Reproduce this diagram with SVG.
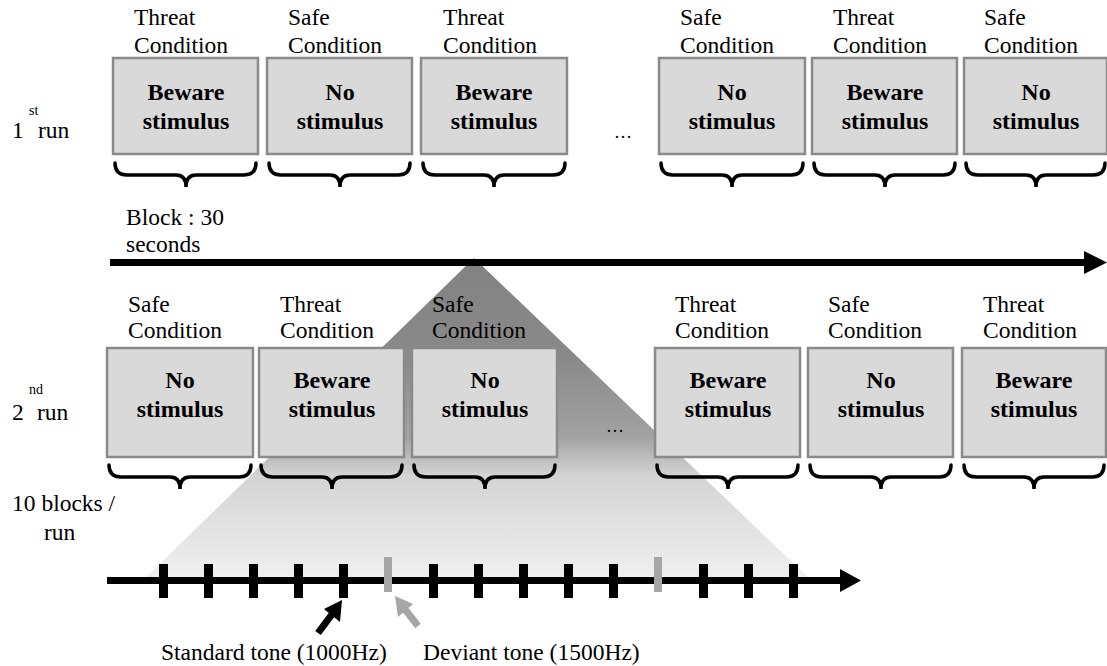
<svg xmlns="http://www.w3.org/2000/svg" width="1107" height="666" viewBox="0 0 1107 666">
<defs>
<style>
text{font-family:"Liberation Serif","Times New Roman",serif;fill:#000}
.lbl{font-size:23.5px}
.bt{font-size:24px;font-weight:bold;text-anchor:middle}
.sup{font-size:14px}
.box{fill:#d9d9d9;stroke:#8a8a8a;stroke-width:2.5}
.brace{fill:none;stroke:#000;stroke-width:3.5;stroke-linecap:round}
.tl{stroke:#000;stroke-width:7}
.tick{fill:#000}
.gtick{fill:#a6a6a6}
</style>
<linearGradient id="fan" gradientUnits="userSpaceOnUse" x1="0" y1="258" x2="0" y2="583">
<stop offset="0" stop-color="#828282"/>
<stop offset="0.3" stop-color="#898989"/>
<stop offset="0.55" stop-color="#a2a2a2"/>
<stop offset="0.67" stop-color="#d4d4d4"/>
<stop offset="1" stop-color="#f1f1f1"/>
</linearGradient>
</defs>
<rect width="1107" height="666" fill="#fff"/>

<g id="fan-zoom"><polygon points="474,258 140,583 814,583" fill="url(#fan)"/></g>

<g id="run1-label"><text class="lbl" x="12" y="138">1</text><text class="sup" x="29" y="115">st</text><text class="lbl" x="38" y="138">run</text></g>
<g id="run2-label"><text class="lbl" x="12" y="420">2</text><text class="sup" x="29" y="394">nd</text><text class="lbl" x="37" y="420">run</text></g>

<g id="r1b1"><text class="lbl" x="134" y="25">Threat</text><text class="lbl" x="134" y="53">Condition</text><rect class="box" x="113" y="58" width="145" height="96"/><text class="bt" x="186" y="100">Beware</text><text class="bt" x="186" y="129">stimulus</text></g>
<g id="r1b2"><text class="lbl" x="288" y="25">Safe</text><text class="lbl" x="288" y="53">Condition</text><rect class="box" x="267" y="58" width="145" height="96"/><text class="bt" x="340" y="100">No</text><text class="bt" x="340" y="129">stimulus</text></g>
<g id="r1b3"><text class="lbl" x="443" y="25">Threat</text><text class="lbl" x="443" y="53">Condition</text><rect class="box" x="421" y="58" width="146" height="96"/><text class="bt" x="494" y="100">Beware</text><text class="bt" x="494" y="129">stimulus</text></g>
<g id="r1b4"><text class="lbl" x="680" y="25">Safe</text><text class="lbl" x="680" y="53">Condition</text><rect class="box" x="659" y="58" width="146" height="96"/><text class="bt" x="732" y="100">No</text><text class="bt" x="732" y="129">stimulus</text></g>
<g id="r1b5"><text class="lbl" x="833" y="25">Threat</text><text class="lbl" x="833" y="53">Condition</text><rect class="box" x="812" y="58" width="145" height="96"/><text class="bt" x="885" y="100">Beware</text><text class="bt" x="885" y="129">stimulus</text></g>
<g id="r1b6"><text class="lbl" x="984" y="25">Safe</text><text class="lbl" x="984" y="53">Condition</text><rect class="box" x="964" y="58" width="143" height="96"/><text class="bt" x="1036" y="100">No</text><text class="bt" x="1036" y="129">stimulus</text></g>
<text id="r1-ellipsis" x="614" y="138" style="font-size:18px">…</text>

<g id="r2b1"><text class="lbl" x="128" y="312">Safe</text><text class="lbl" x="128" y="338">Condition</text><rect class="box" x="107" y="348" width="146" height="109"/><text class="bt" x="180" y="388">No</text><text class="bt" x="180" y="417">stimulus</text></g>
<g id="r2b2"><text class="lbl" x="280" y="312">Threat</text><text class="lbl" x="280" y="338">Condition</text><rect class="box" x="259" y="348" width="145" height="109"/><text class="bt" x="332" y="388">Beware</text><text class="bt" x="332" y="417">stimulus</text></g>
<g id="r2b3"><text class="lbl" x="432" y="312">Safe</text><text class="lbl" x="432" y="338">Condition</text><rect class="box" x="412" y="348" width="145" height="109"/><text class="bt" x="485" y="388">No</text><text class="bt" x="485" y="417">stimulus</text></g>
<g id="r2b4"><text class="lbl" x="675" y="312">Threat</text><text class="lbl" x="675" y="338">Condition</text><rect class="box" x="655" y="348" width="145" height="109"/><text class="bt" x="728" y="388">Beware</text><text class="bt" x="728" y="417">stimulus</text></g>
<g id="r2b5"><text class="lbl" x="828" y="312">Safe</text><text class="lbl" x="828" y="338">Condition</text><rect class="box" x="808" y="348" width="145" height="109"/><text class="bt" x="881" y="388">No</text><text class="bt" x="881" y="417">stimulus</text></g>
<g id="r2b6"><text class="lbl" x="983" y="312">Threat</text><text class="lbl" x="983" y="338">Condition</text><rect class="box" x="962" y="348" width="144" height="109"/><text class="bt" x="1034" y="388">Beware</text><text class="bt" x="1034" y="417">stimulus</text></g>
<text id="r2-ellipsis" x="606" y="432" style="font-size:18px">…</text>

<g id="braces">
<path class="brace" d="M115,163 Q115,175 127,175 L176,175 Q186,175 186,187 Q186,175 196,175 L244,175 Q256,175 256,163"/>
<path class="brace" d="M269,163 Q269,175 281,175 L330,175 Q340,175 340,187 Q340,175 350,175 L398,175 Q410,175 410,163"/>
<path class="brace" d="M423,163 Q423,175 435,175 L484,175 Q494,175 494,187 Q494,175 504,175 L553,175 Q565,175 565,163"/>
<path class="brace" d="M661,163 Q661,175 673,175 L722,175 Q732,175 732,187 Q732,175 742,175 L791,175 Q803,175 803,163"/>
<path class="brace" d="M814,163 Q814,175 826,175 L875,175 Q885,175 885,187 Q885,175 895,175 L943,175 Q955,175 955,163"/>
<path class="brace" d="M966,163 Q966,175 978,175 L1026,175 Q1036,175 1036,187 Q1036,175 1046,175 L1093,175 Q1105,175 1105,163"/>
<path class="brace" d="M109,465 Q109,477 121,477 L170,477 Q180,477 180,489 Q180,477 190,477 L239,477 Q251,477 251,465"/>
<path class="brace" d="M261,465 Q261,477 273,477 L322,477 Q332,477 332,489 Q332,477 342,477 L390,477 Q402,477 402,465"/>
<path class="brace" d="M414,465 Q414,477 426,477 L475,477 Q485,477 485,489 Q485,477 495,477 L543,477 Q555,477 555,465"/>
<path class="brace" d="M657,465 Q657,477 669,477 L718,477 Q728,477 728,489 Q728,477 738,477 L786,477 Q798,477 798,465"/>
<path class="brace" d="M810,465 Q810,477 822,477 L871,477 Q881,477 881,489 Q881,477 891,477 L939,477 Q951,477 951,465"/>
<path class="brace" d="M964,465 Q964,477 976,477 L1024,477 Q1034,477 1034,489 Q1034,477 1044,477 L1092,477 Q1104,477 1104,465"/>
</g>

<g id="block-label"><text class="lbl" x="126" y="225">Block : 30</text><text class="lbl" x="126" y="252">seconds</text></g>
<g id="blocks-per-run"><text class="lbl" x="12" y="511">10 blocks /</text><text class="lbl" x="44" y="540">run</text></g>

<g id="connectors">
<line class="tl" x1="110" y1="262.5" x2="1088" y2="262.5"/>
<polygon points="1084,251 1107,262.5 1084,274" fill="#000"/>
<line class="tl" x1="107" y1="580.5" x2="842" y2="580.5"/>
<polygon points="840,569 861,580.5 840,592" fill="#000"/>
<g id="ticks">
<rect class="tick" x="159" y="564" width="9" height="34"/>
<rect class="tick" x="204" y="564" width="9" height="34"/>
<rect class="tick" x="249" y="564" width="9" height="34"/>
<rect class="tick" x="294" y="564" width="9" height="34"/>
<rect class="tick" x="339" y="564" width="9" height="34"/>
<rect class="gtick" x="384" y="557" width="8" height="35"/>
<rect class="tick" x="429" y="564" width="9" height="34"/>
<rect class="tick" x="474" y="564" width="9" height="34"/>
<rect class="tick" x="519" y="564" width="9" height="34"/>
<rect class="tick" x="564" y="564" width="9" height="34"/>
<rect class="tick" x="609" y="564" width="9" height="34"/>
<rect class="gtick" x="654" y="557" width="8" height="35"/>
<rect class="tick" x="699" y="564" width="9" height="34"/>
<rect class="tick" x="744" y="564" width="9" height="34"/>
<rect class="tick" x="789" y="564" width="9" height="34"/>
</g>
<line x1="318" y1="633" x2="333" y2="613" stroke="#000" stroke-width="7"/>
<polygon points="342,600 340,622 324,609" fill="#000"/>
<line x1="418" y1="626" x2="404" y2="608" stroke="#a6a6a6" stroke-width="7"/>
<polygon points="395,596 413,604 398,617" fill="#a6a6a6"/>
</g>

<g id="tone-labels"><text class="lbl" x="161" y="660">Standard tone (1000Hz)</text><text class="lbl" x="423" y="660">Deviant tone (1500Hz)</text></g>
</svg>
